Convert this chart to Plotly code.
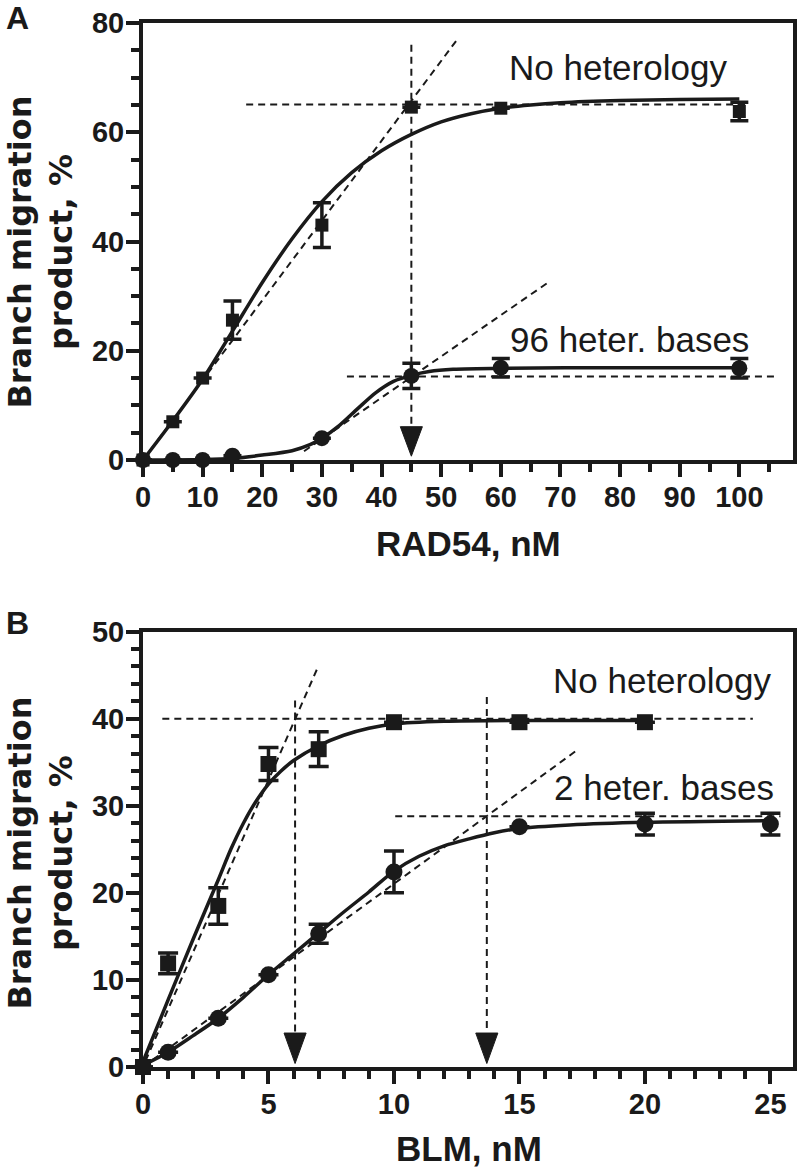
import plotly.graph_objects as go

# ---------------- Panel A : RAD54, nM ----------------
a_x = [0, 5, 10, 15, 30, 45, 60, 100]
a_nohet = [0, 7.0, 15.0, 25.6, 43.0, 64.6, 64.4, 63.8]
a_nohet_err = [0, 0, 0, 3.5, 4.1, 0, 0, 1.7]
a_het = [0, 0, 0, 0.8, 4.0, 15.4, 16.9, 16.8]
a_het_err = [0, 0, 0, 0, 0, 2.3, 1.7, 1.8]

# fitted curves
a_fit_nohet_x = [0, 5, 10, 15, 20, 25, 30, 35, 40, 45, 50, 55, 60, 65, 70, 80, 90, 100]
a_fit_nohet_y = [0, 7.2, 14.8, 23.6, 32.5, 40.5, 47.3, 52.6, 56.6, 59.6, 61.9, 63.4, 64.4, 65.0, 65.4, 65.8, 66.0, 66.1]
a_fit_het_x = [0, 10, 15, 20, 25, 28, 30, 33, 36, 39, 42, 45, 48, 52, 60, 80, 100]
a_fit_het_y = [0, 0.1, 0.3, 0.9, 1.7, 2.8, 4.0, 6.4, 9.4, 12.3, 14.4, 15.5, 16.2, 16.6, 16.8, 16.9, 16.9]

# dashed construction lines
a_tan_nohet_x = [0, 52.7]
a_tan_nohet_y = [0, 77.0]
a_plat_nohet_x = [17.3, 101.7]
a_plat_nohet_y = [65.1, 65.1]
a_tan_het_x = [27.0, 67.8]
a_tan_het_y = [1.6, 32.4]
a_plat_het_x = [34.2, 106.3]
a_plat_het_y = [15.3, 15.3]
a_vert_x = [45, 45]
a_vert_y = [76.0, 6.1]
a_arrow_x = [45]
a_arrow_tip = [0.7]
a_arrow_top = [6.1]

# ---------------- Panel B : BLM, nM ----------------
b_x_nohet = [0, 1, 3, 5, 7, 10, 15, 20]
b_nohet = [0, 11.9, 18.5, 34.8, 36.5, 39.6, 39.6, 39.6]
b_nohet_err = [0, 1.2, 2.1, 1.9, 2.0, 0, 0, 0]
b_x_het = [0, 1, 3, 5, 7, 10, 15, 20, 25]
b_het = [0, 1.7, 5.6, 10.6, 15.3, 22.4, 27.6, 27.9, 27.9]
b_het_err = [0, 0, 0, 0, 1.1, 2.4, 0, 1.25, 1.25]

b_fit_nohet_x = [0, 1, 2, 3, 3.5, 4, 4.5, 5, 5.5, 6, 7, 8, 9, 10, 12, 15, 20]
b_fit_nohet_y = [0.6, 7.7, 14.7, 21.5, 25.0, 28.0, 30.5, 32.5, 34.0, 35.2, 36.9, 38.1, 38.9, 39.4, 39.7, 39.8, 39.8]
b_fit_het_x = [0, 1, 2, 3, 4, 5, 6, 7, 8, 9, 10, 11, 12, 13, 14, 15, 17, 20, 25]
b_fit_het_y = [0.2, 1.7, 3.6, 5.6, 8.0, 10.6, 13.0, 15.4, 17.8, 20.1, 22.5, 24.2, 25.4, 26.2, 26.9, 27.4, 27.8, 28.1, 28.3]

b_tan_nohet_x = [0.1, 6.95]
b_tan_nohet_y = [0.7, 45.8]
b_plat_nohet_x = [0.77, 24.3]
b_plat_nohet_y = [40.0, 40.0]
b_tan_het_x = [0, 17.3]
b_tan_het_y = [0, 36.4]
b_plat_het_x = [10.05, 25.4]
b_plat_het_y = [28.8, 28.8]
b_vert1_x = [6.06, 6.06]
b_vert1_y = [42.1, 3.9]
b_vert2_x = [13.7, 13.7]
b_vert2_y = [42.5, 3.9]
b_arrow_x = [6.06, 13.7]
b_arrow_tip = [0.4, 0.4]
b_arrow_top = [3.9, 3.9]

# ---------------- styling ----------------
INK = "#1a1a1a"
TICKFONT = dict(family="Liberation Sans, Arial, sans-serif", size=29, color=INK, weight="bold")

fig = go.Figure()


def dashed(x, y, xa, ya):
    fig.add_trace(go.Scatter(x=x, y=y, mode="lines", xaxis=xa, yaxis=ya,
                             line=dict(color=INK, width=2, dash="7px,5px"),
                             hoverinfo="skip", showlegend=False))


def fit(x, y, xa, ya):
    fig.add_trace(go.Scatter(x=x, y=y, mode="lines", xaxis=xa, yaxis=ya,
                             line=dict(color=INK, width=3.5, shape="spline", smoothing=0.8),
                             hoverinfo="skip", showlegend=False))


def points(x, y, err, symbol, size, cap, xa, ya):
    fig.add_trace(go.Scatter(x=x, y=y, mode="markers", xaxis=xa, yaxis=ya,
                             marker=dict(symbol=symbol, size=size, color=INK, line=dict(width=0)),
                             error_y=dict(type="data", array=err, visible=True,
                                          color=INK, thickness=3.5, width=cap),
                             cliponaxis=False, showlegend=False))


def arrows(xs, tips, tops, halfw, xa, ya):
    for x, tip, top in zip(xs, tips, tops):
        fig.add_trace(go.Scatter(x=[x - halfw, x + halfw, x, x - halfw],
                                 y=[top, top, tip, top], mode="lines",
                                 fill="toself", fillcolor=INK, xaxis=xa, yaxis=ya,
                                 line=dict(color=INK, width=1),
                                 hoverinfo="skip", showlegend=False))


# Panel A
dashed(a_tan_nohet_x, a_tan_nohet_y, "x", "y")
dashed(a_plat_nohet_x, a_plat_nohet_y, "x", "y")
dashed(a_tan_het_x, a_tan_het_y, "x", "y")
dashed(a_plat_het_x, a_plat_het_y, "x", "y")
dashed(a_vert_x, a_vert_y, "x", "y")
fit(a_fit_nohet_x, a_fit_nohet_y, "x", "y")
fit(a_fit_het_x, a_fit_het_y, "x", "y")
points(a_x, a_nohet, a_nohet_err, "square", 13, 9, "x", "y")
points(a_x, a_het, a_het_err, "circle", 16, 9, "x", "y")
arrows(a_arrow_x, a_arrow_tip, a_arrow_top, 1.85, "x", "y")

# Panel B
dashed(b_tan_nohet_x, b_tan_nohet_y, "x2", "y2")
dashed(b_plat_nohet_x, b_plat_nohet_y, "x2", "y2")
dashed(b_tan_het_x, b_tan_het_y, "x2", "y2")
dashed(b_plat_het_x, b_plat_het_y, "x2", "y2")
dashed(b_vert1_x, b_vert1_y, "x2", "y2")
dashed(b_vert2_x, b_vert2_y, "x2", "y2")
fit(b_fit_nohet_x, b_fit_nohet_y, "x2", "y2")
fit(b_fit_het_x, b_fit_het_y, "x2", "y2")
points(b_x_nohet, b_nohet, b_nohet_err, "square", 16, 10, "x2", "y2")
points(b_x_het, b_het, b_het_err, "circle", 17, 10, "x2", "y2")
arrows(b_arrow_x, b_arrow_tip, b_arrow_top, 0.44, "x2", "y2")

axis_common = dict(showline=True, linewidth=4, linecolor=INK, mirror=True,
                   ticks="outside", ticklen=13, tickwidth=3.5, tickcolor=INK,
                   showgrid=False, zeroline=False, tickfont=TICKFONT, fixedrange=True)

fig.update_layout(
    width=800, height=1169,
    margin=dict(l=143, r=3, t=23, b=102),
    paper_bgcolor="white", plot_bgcolor="white",
    showlegend=False,
    xaxis=dict(domain=[0, 1], anchor="y", range=[0, 109], dtick=10, tick0=0, ticklabelstandoff=-5,
               minor=dict(dtick=5, tick0=0, ticklen=8, tickwidth=3.5, tickcolor=INK, ticks="outside"),
               **axis_common),
    yaxis=dict(domain=[0.5814, 1.0], anchor="x", range=[0, 80], dtick=20, tick0=0, ticklabelstandoff=-4,
               minor=dict(dtick=5, tick0=0, ticklen=8, tickwidth=3.5, tickcolor=INK, ticks="outside"),
               **axis_common),
    xaxis2=dict(domain=[0, 1], anchor="y2", range=[0, 25.9], dtick=5, tick0=0, ticklabelstandoff=-5,
                minor=dict(dtick=1, tick0=0, ticklen=8, tickwidth=3.5, tickcolor=INK, ticks="outside"),
                **axis_common),
    yaxis2=dict(domain=[0, 0.417], anchor="x2", range=[0, 50], dtick=10, tick0=0, ticklabelstandoff=-4,
                minor=dict(dtick=2, tick0=0, ticklen=8, tickwidth=3.5, tickcolor=INK, ticks="outside"),
                **axis_common),
)

LABEL = dict(family="Liberation Sans, Arial, sans-serif", size=35, color=INK)
BOLD = dict(family="Liberation Sans, Arial, sans-serif", size=35, color=INK, weight="bold")
YT = dict(family="DejaVu Sans, sans-serif", size=32, color=INK, weight="bold")
PANEL = dict(family="Liberation Sans, Arial, sans-serif", size=32, color=INK, weight="bold")

annots = [
    dict(text="A", x=-0.1927, y=1.0048, font=PANEL),
    dict(text="B", x=-0.1927, y=0.4253, font=PANEL),
    dict(text="Branch migration<br>product, %", x=-0.1575, y=0.7807, font=YT, textangle=-90),
    dict(text="Branch migration<br>product, %", x=-0.1575, y=0.205, font=YT, textangle=-90),
    dict(text="RAD54, nM", x=0.5008, y=0.501, font=BOLD),
    dict(text="BLM, nM", x=0.5008, y=-0.0785, font=BOLD),
    dict(text="No heterology", x=0.7301, y=0.9573, font=LABEL),
    dict(text="96 heter. bases", x=0.7485, y=0.6973, font=LABEL),
    dict(text="No heterology", x=0.7989, y=0.3702, font=LABEL),
    dict(text="2 heter. bases", x=0.802, y=0.2677, font=LABEL),
]
for a in annots:
    fig.add_annotation(xref="paper", yref="paper", showarrow=False,
                       xanchor="center", yanchor="middle", **a)

fig.write_html("out.html", config={"displayModeBar": False},
               post_script="document.body.style.margin='0';document.body.style.overflow='hidden';")
